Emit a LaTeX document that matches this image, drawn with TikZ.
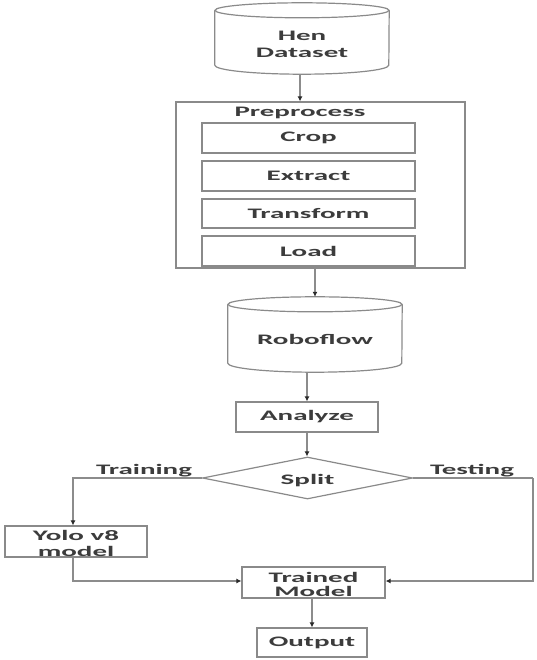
\documentclass[tikz,border=0pt]{standalone}
\usepackage{fontspec}
\setmainfont{Carlito}
\usepackage{graphicx}
\usetikzlibrary{shapes.geometric,arrows.meta,calc}
\definecolor{edgegray}{HTML}{8A8A8A}
\definecolor{linegray}{HTML}{8C8C8C}
\definecolor{txt}{HTML}{3C3C3C}
\definecolor{tipcol}{HTML}{2A2A2A}
\newcommand\wt[1]{\scalebox{2}[1]{#1}}
\newcommand\lowr[2]{\raisebox{-#1}[\height][\depth]{#2}}
\tikzset{
  every node/.style={font=\fontsize{14.5pt}{15pt}\selectfont\bfseries, text=txt},
  boxed/.style={draw=edgegray, line width=1.2pt, fill=white, rectangle, inner sep=0pt, align=center},
  cylbox/.style={draw=none, rectangle, inner sep=0pt, align=center},
  decision/.style={draw=edgegray, line width=1.2pt, fill=white, diamond, aspect=5, inner sep=0pt},
  plain/.style={draw=none, inner sep=0pt},
  cylline/.style={draw=edgegray, line width=1.2pt},
  conn/.style={draw=linegray, line width=1.2pt},
  arr/.style={conn, -{Latex[length=5pt,width=5pt,color=tipcol]}},
}
\begin{document}
\begin{tikzpicture}[x=1pt,y=1pt]
\useasboundingbox (0,0) rectangle (536,-660);

% Hen Dataset cylinder
\node[cylbox, minimum width=174pt, minimum height=71pt] (hen) at (302,-38.5)
  {\lowr{6pt}{\shortstack{\wt{Hen}\\[4pt]\wt{Dataset}}}};
\draw[cylline] ([yshift=-7.5pt]hen.north) ellipse [x radius=87pt, y radius=7.5pt];
\draw[cylline] ([yshift=-7.5pt]hen.north west) -- ([yshift=9pt]hen.south west)
  arc[start angle=180, end angle=360, x radius=87pt, y radius=9pt]
  -- ([yshift=-7.5pt]hen.north east);

% Preprocess container
\node[boxed, minimum width=289pt, minimum height=166pt] (pre) at (320.5,-185) {};
\node[plain] (prelabel) at (300,-113) {\wt{Preprocess}};
\node[boxed, minimum width=213pt, minimum height=30pt] (crop) at (308.5,-138) {\wt{Crop}};
\node[boxed, minimum width=213pt, minimum height=30pt] (extract) at (308.5,-176) {\wt{Extract}};
\node[boxed, minimum width=213pt, minimum height=29pt] (transform) at (308.5,-213.5) {\wt{Transform}};
\node[boxed, minimum width=213pt, minimum height=30pt] (load) at (308.5,-251) {\wt{Load}};

% Roboflow cylinder
\node[cylbox, minimum width=174pt, minimum height=75pt] (robo) at (315,-334.5)
  {\lowr{4.5pt}{\wt{Roboflow}}};
\draw[cylline] ([yshift=-7.5pt]robo.north) ellipse [x radius=87pt, y radius=7.5pt];
\draw[cylline] ([yshift=-7.5pt]robo.north west) -- ([yshift=9pt]robo.south west)
  arc[start angle=180, end angle=360, x radius=87pt, y radius=9pt]
  -- ([yshift=-7.5pt]robo.north east);

\node[boxed, minimum width=142pt, minimum height=30pt] (analyze) at (307,-417) {\wt{Analyze}};
\node[decision, minimum width=210pt, minimum height=42pt] (split) at (307.5,-478) {\lowr{3pt}{\wt{Split}}};
\node[plain] (training) at (144,-471) {\wt{Training}};
\node[plain] (testing) at (472,-471) {\wt{Testing}};

\node[boxed, minimum width=142pt, minimum height=31pt] (yolo) at (76,-541.5)
  {\lowr{2pt}{\shortstack{\wt{Yolo v8}\\[3pt]\wt{model}}}};
\node[boxed, minimum width=143pt, minimum height=31pt] (trained) at (313.5,-582.5)
  {\lowr{2pt}{\shortstack{\wt{Trained}\\[1.5pt]\wt{Model}}}};
\node[boxed, minimum width=110pt, minimum height=29pt] (output) at (312,-642.5) {\wt{Output}};

\coordinate (rc) at (533,-478);

% connectors
\draw[arr] ([xshift=-2pt]hen.south) -- ([xshift=-2pt]hen.south |- pre.north);
\draw[arr] (pre.south -| robo.north) -- (robo.north);
\draw[arr] (robo.south -| analyze.north) -- (analyze.north);
\draw[arr] (analyze.south) -- (analyze.south |- split.north);
\draw[arr] (split.west) -| ([xshift=-3pt]yolo.north);
\draw[conn] (split.east) -- (rc);
\draw[arr] (rc) |- ([yshift=1.5pt]trained.east);
\draw[arr] ([xshift=-3pt]yolo.south) |- ([yshift=1.5pt]trained.west);
\draw[arr] (trained.south -| output.north) -- (output.north);
\end{tikzpicture}
\end{document}
